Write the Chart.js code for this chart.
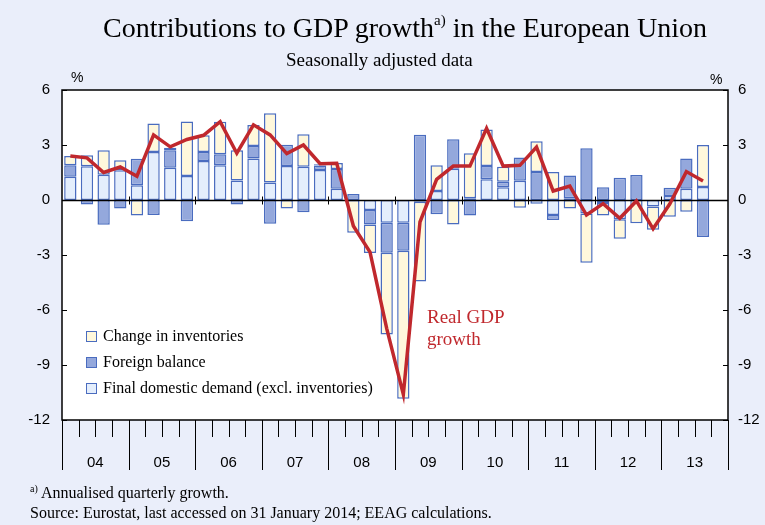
<!DOCTYPE html>
<html><head><meta charset="utf-8">
<script src="https://cdn.jsdelivr.net/npm/chart.js@4.4.1/dist/chart.umd.min.js"></script>
<style>
html,body{margin:0;padding:0;}
body{width:765px;height:525px;background:#eaeefa;position:relative;overflow:hidden;font-family:"Liberation Serif","Times New Roman",serif;color:#000;}
canvas{position:absolute;left:0;top:0;}
.t{position:absolute;white-space:nowrap;}
.sup{position:relative;}
</style></head><body>
<canvas id="c" width="765" height="525"></canvas>
<div class="t" style="left:103px;top:11px;font-size:28px;line-height:34px;">Contributions to GDP growth<span class="sup" style="font-size:15px;top:-12px;">a)</span> in the European Union</div>
<div class="t" style="left:286px;top:49px;font-size:19px;line-height:22px;">Seasonally adjusted data</div>
<div class="t" style="left:71px;top:68px;font-size:14px;line-height:18px;font-family:'Liberation Sans',Arial,sans-serif;">%</div>
<div class="t" style="left:710px;top:70px;font-size:14px;line-height:18px;font-family:'Liberation Sans',Arial,sans-serif;">%</div>
<div class="t" style="left:30px;top:483px;font-size:16px;line-height:20px;"><span class="sup" style="font-size:10px;top:-6px;">a)</span> Annualised quarterly growth.</div>
<div class="t" style="left:30px;top:503px;font-size:16px;line-height:20px;">Source: Eurostat, last accessed on 31 January 2014; EEAG calculations.</div>
<script>
const years = ['04','05','06','07','08','09','10','11','12','13'];
const quarterNames = ['Q1','Q2','Q3','Q4'];
const quarters = years.flatMap(y => quarterNames.map(q => y + q));

// 2004Q1 .. 2013Q3 (2013Q4 not yet available)
const domesticDemand = [1.27,1.84,1.38,1.62, 0.80,2.62,1.76,1.31, 2.13,1.89,1.07,2.27, 0.95,1.85,1.82,1.64,
  0.62,0.00,-0.55,-1.24, -1.24,-0.10,0.49,1.71, 0.10,1.13,0.69,1.05, -0.20,-0.82,0.09,-0.73,
  -0.16,-1.05,0.00,-0.35, 0.22,0.62,0.71,null];
const foreignBalance = [0.62,-0.25,-1.35,-0.47, 1.45,-0.82,0.95,-1.16, 0.49,0.60,-0.25,0.67, -1.29,1.16,-0.67,0.24,
  1.07,0.33,-0.78,-1.64, -1.53,3.56,-0.78,1.60, -0.84,0.73,0.31,1.27, 1.53,-0.27,1.24,2.82,
  0.69,1.22,1.36,0.00, 0.45,1.65,-2.02,null];
const inventories = [0.51,0.60,1.33,0.55, -0.84,1.55,0.14,2.97, 0.91,1.78,1.65,1.15, 3.78,-0.47,1.77,0.07,
  0.33,-1.78,-1.56,-4.45, -8.07,-4.35,1.40,-1.33, 2.45,1.98,0.82,-0.42, 1.67,1.53,-0.47,-2.69,
  -0.69,-1.06,-1.27,-1.27, -0.92,-0.64,2.29,null];
const gdpGrowth = [2.40,2.30,1.50,1.80, 1.30,3.55,2.90,3.30, 3.53,4.27,2.55,4.10, 3.55,2.53,3.00,1.98,
  2.00,-1.42,-2.84,-7.00, -10.60,-1.20,1.13,1.85, 1.85,3.91,1.85,1.89, 2.89,0.49,0.76,-0.82,
  -0.20,-1.00,-0.05,-1.57, -0.22,1.55,1.04,null];

const legendLabels = ['Change in inventories','Foreign balance','Final domestic demand (excl. inventories)'];
const annotationLines = ['Real GDP','growth'];

const C_DD = '#e4eefc', C_FB = '#94a8dc', C_INV = '#fff8dc', C_EDGE = '#4a6cbf', C_RED = '#c0282d';
const SANS = '"Liberation Sans", Arial, sans-serif';
const SERIF = '"Liberation Serif", "Times New Roman", serif';

const decor = {
  id: 'decor',
  beforeDatasetsDraw(chart) {
    const {ctx, chartArea: a} = chart;
    ctx.save();
    ctx.fillStyle = '#ffffff';
    ctx.fillRect(a.left, a.top, a.right - a.left, a.bottom - a.top);
    ctx.restore();
  },
  afterDatasetDraw(chart, args) {
    if (args.index !== 0) return; // after last bar layer, before line
    const {ctx, chartArea: a, scales: {x, y}} = chart;
    const y0 = Math.round(y.getPixelForValue(0)) + 0.5;
    const w = (x.right - x.left) / quarters.length;
    ctx.save();
    ctx.strokeStyle = '#000'; ctx.lineWidth = 1.5;
    ctx.beginPath(); ctx.moveTo(a.left, y0); ctx.lineTo(a.right, y0); ctx.stroke();
    ctx.lineWidth = 1;
    for (let k = 4; k < quarters.length; k += 4) {
      const px = Math.round(x.getPixelForValue(k) - w / 2) + 0.5;
      ctx.beginPath(); ctx.moveTo(px, y0 - 4); ctx.lineTo(px, y0 + 4); ctx.stroke();
    }
    ctx.restore();
  },
  afterDraw(chart) {
    const {ctx, chartArea: a, scales: {x, y}} = chart;
    const w = (x.right - x.left) / quarters.length;
    ctx.save();
    ctx.strokeStyle = '#000'; ctx.lineWidth = 1.5;
    ctx.strokeRect(a.left, a.top, a.right - a.left, a.bottom - a.top);
    ctx.lineWidth = 1;
    for (let v = -12; v <= 6; v += 3) {
      const py = Math.round(y.getPixelForValue(v)) + 0.5;
      ctx.beginPath(); ctx.moveTo(a.left, py); ctx.lineTo(a.left + 5, py); ctx.stroke();
      ctx.beginPath(); ctx.moveTo(a.right - 5, py); ctx.lineTo(a.right, py); ctx.stroke();
    }
    for (let k = 0; k <= quarters.length; k++) {
      const px = Math.round(x.getPixelForValue(k) - w / 2) + 0.5;
      const len = (k % 4 === 0) ? 50 : 17;
      ctx.beginPath(); ctx.moveTo(px, a.bottom); ctx.lineTo(px, a.bottom + len); ctx.stroke();
    }
    ctx.fillStyle = '#000';
    ctx.font = '15px ' + SANS;
    ctx.textAlign = 'center'; ctx.textBaseline = 'middle';
    years.forEach((yr, i) => {
      const cx = (x.getPixelForValue(i * 4 + 1) + x.getPixelForValue(i * 4 + 2)) / 2;
      ctx.fillText(yr, cx, a.bottom + 43);
    });
    const fills = [C_INV, C_FB, C_DD];
    ctx.font = '16px ' + SERIF;
    ctx.textAlign = 'left';
    legendLabels.forEach((lab, i) => {
      const cy = 336 + i * 26;
      ctx.fillStyle = fills[i];
      ctx.fillRect(86, cy - 5, 10, 10);
      ctx.strokeStyle = C_EDGE; ctx.lineWidth = 1;
      ctx.strokeRect(86.5, cy - 4.5, 10, 10);
      ctx.fillStyle = '#000';
      ctx.fillText(lab, 103, cy + 1);
    });
    ctx.fillStyle = C_RED;
    ctx.font = '19px ' + SERIF;
    annotationLines.forEach((t, i) => ctx.fillText(t, 427, 318 + i * 22));
    ctx.restore();
  }
};

const barCommon = {
  type: 'bar', stack: 'c', order: 1,
  borderColor: C_EDGE, borderWidth: 1.5, borderSkipped: false,
  barPercentage: 0.74, categoryPercentage: 1.0
};

new Chart(document.getElementById('c'), {
  data: {
    labels: quarters,
    datasets: [
      Object.assign({label: legendLabels[2], data: domesticDemand, backgroundColor: C_DD}, barCommon),
      Object.assign({label: legendLabels[1], data: foreignBalance, backgroundColor: C_FB}, barCommon),
      Object.assign({label: legendLabels[0], data: inventories, backgroundColor: C_INV}, barCommon),
      {type: 'line', label: 'Real GDP growth', data: gdpGrowth, stack: 'g', order: 0,
       borderColor: C_RED, borderWidth: 3.5, pointRadius: 0, tension: 0, fill: false,
       borderJoinStyle: 'miter', spanGaps: false}
    ]
  },
  options: {
    responsive: false, animation: false, devicePixelRatio: 1,
    layout: {padding: {top: 90, bottom: 105, left: 0, right: 0}},
    plugins: {legend: {display: false}, tooltip: {enabled: false}, title: {display: false}},
    scales: {
      x: {type: 'category', stacked: true, display: false, offset: true},
      y: {position: 'left', stacked: true, min: -12, max: 6,
          afterFit(s) { s.width = 62; },
          grid: {display: false, drawTicks: false}, border: {display: false},
          ticks: {stepSize: 3, padding: 12, color: '#000', font: {family: SANS, size: 15}}},
      y2: {position: 'right', min: -12, max: 6,
          afterFit(s) { s.width = 37; },
          grid: {display: false, drawTicks: false}, border: {display: false},
          ticks: {stepSize: 3, padding: 10, color: '#000', font: {family: SANS, size: 15}}}
    }
  },
  plugins: [decor]
});
</script>
</body></html>
